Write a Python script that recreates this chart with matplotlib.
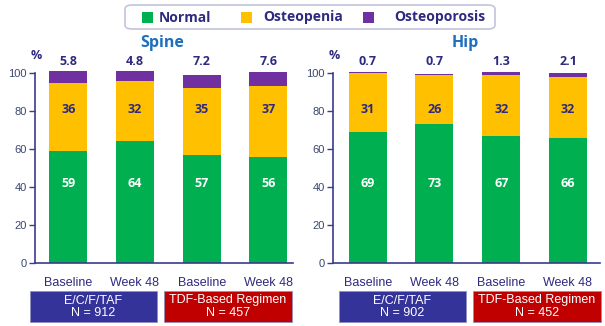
import matplotlib.pyplot as plt
from matplotlib.patches import Rectangle, FancyBboxPatch

# valores por grupo: Baseline / Week 48 para cada régimen
grupos = ["Baseline", "Week 48", "Baseline", "Week 48"]

spine_normal = [59, 64, 57, 56]
spine_osteopenia = [36, 32, 35, 37]
spine_osteoporosis = [5.8, 4.8, 7.2, 7.6]

hip_normal = [69, 73, 67, 66]
hip_osteopenia = [31, 26, 32, 32]
hip_osteoporosis = [0.7, 0.7, 1.3, 2.1]

regimenes = ["E/C/F/TAF", "TDF-Based Regimen"]
n_spine = [912, 457]
n_hip = [902, 452]

VERDE = "#00b050"
AMARILLO = "#ffc000"
MORADO = "#7030a0"
NAVY = "#2e2a80"
EJE = "#3b3b8f"
TITULO = "#1f6fbf"
AZUL_CAJA = "#333399"
ROJO_CAJA = "#c00000"

W, H = 605, 326
fig = plt.figure(figsize=(W / 100, H / 100), dpi=100)
fig.patch.set_facecolor("white")

BOLD = ["Open Sans", "DejaVu Sans"]
ARIAL = ["Liberation Sans", "DejaVu Sans"]


def fx(px):
    return px / W


def fy(py):
    return 1 - py / H


def panel(left_px, right_px, xlo, xhi, normal, osteopenia, osteoporosis, titulo, title_x):
    ax = fig.add_axes([fx(left_px), fy(263), fx(right_px - left_px), (263 - 73) / H])
    x = list(range(len(grupos)))
    ancho = 0.57
    ax.bar(x, normal, width=ancho, color=VERDE, clip_on=False, zorder=2)
    ax.bar(x, osteopenia, width=ancho, bottom=normal, color=AMARILLO, clip_on=False, zorder=2)
    base2 = [a + b for a, b in zip(normal, osteopenia)]
    ax.bar(x, osteoporosis, width=ancho, bottom=base2, color=MORADO, clip_on=False, zorder=2)

    for i in x:
        ax.text(i, 42, f"{normal[i]}", ha="center", va="center", color="white",
                fontsize=9, fontweight="bold", family=BOLD)
        ax.text(i, 81, f"{osteopenia[i]}", ha="center", va="center", color=NAVY,
                fontsize=9, fontweight="bold", family=BOLD)
        ax.text(i, 106, f"{osteoporosis[i]}", ha="center", va="center", color=NAVY,
                fontsize=9, fontweight="bold", family=BOLD, clip_on=False)

    ax.text(xlo + 0.02, 109, "%", ha="center", va="center", color=NAVY,
            fontsize=9, fontweight="bold", family=BOLD, clip_on=False)

    ax.set_xlim(xlo, xhi)
    ax.set_ylim(0, 100)
    ax.set_yticks([0, 20, 40, 60, 80, 100])
    ax.set_xticks(x)
    ax.set_xticklabels(grupos, family=ARIAL, fontsize=9, color=NAVY)
    ax.tick_params(axis="x", length=0, pad=10)
    ax.tick_params(axis="y", length=4, width=1, color=EJE, labelcolor="#3a4570",
                   labelsize=8, pad=2)
    for lab in ax.get_yticklabels():
        lab.set_family(ARIAL)
    for s in ["top", "right"]:
        ax.spines[s].set_visible(False)
    for s in ["left", "bottom"]:
        ax.spines[s].set_color(EJE)
        ax.spines[s].set_linewidth(1.2)

    fig.text(fx(title_x), fy(43), titulo, ha="center", va="center", color=TITULO,
             fontsize=11.5, fontweight="bold", family=BOLD)
    return ax


panel(35, 293, -0.5, 3.37, spine_normal, spine_osteopenia, spine_osteoporosis, "Spine", 162)
panel(333, 600, -0.52, 3.48, hip_normal, hip_osteopenia, hip_osteoporosis, "Hip", 465)

# cajas de régimen debajo de cada panel
cajas = [
    (30, 157, AZUL_CAJA, regimenes[0], n_spine[0]),
    (164, 292, ROJO_CAJA, regimenes[1], n_spine[1]),
    (339, 466, AZUL_CAJA, regimenes[0], n_hip[0]),
    (473, 601, ROJO_CAJA, regimenes[1], n_hip[1]),
]
for x0, x1, col, nombre, n in cajas:
    fig.patches.append(Rectangle((fx(x0), fy(322)), fx(x1 - x0), (322 - 291) / H,
                                 transform=fig.transFigure, facecolor=col,
                                 edgecolor="#9090c0", linewidth=0.6))
    fig.text(fx((x0 + x1) / 2), fy(306.5), f"{nombre}\nN = {n}", ha="center", va="center",
             color="white", fontsize=9, family=ARIAL, linespacing=1.0)

# leyenda
fig.patches.append(FancyBboxPatch((fx(125), fy(29)), fx(370), 24 / H,
                                  boxstyle="round,pad=0,rounding_size=0.012",
                                  transform=fig.transFigure, facecolor="white",
                                  edgecolor="#c4c4dc", linewidth=1.2))
items = [(142, 159, VERDE, "Normal"), (241, 263, AMARILLO, "Osteopenia"),
         (363, 394, MORADO, "Osteoporosis")]
for sx, tx, col, nombre in items:
    fig.patches.append(Rectangle((fx(sx), fy(23)), fx(11), 11 / H,
                                 transform=fig.transFigure, facecolor=col, edgecolor="none"))
    fig.text(fx(tx), fy(17.5), nombre, ha="left", va="center", color=NAVY,
             fontsize=10, fontweight="bold", family=BOLD)

fig.savefig("out.png", dpi=100)
